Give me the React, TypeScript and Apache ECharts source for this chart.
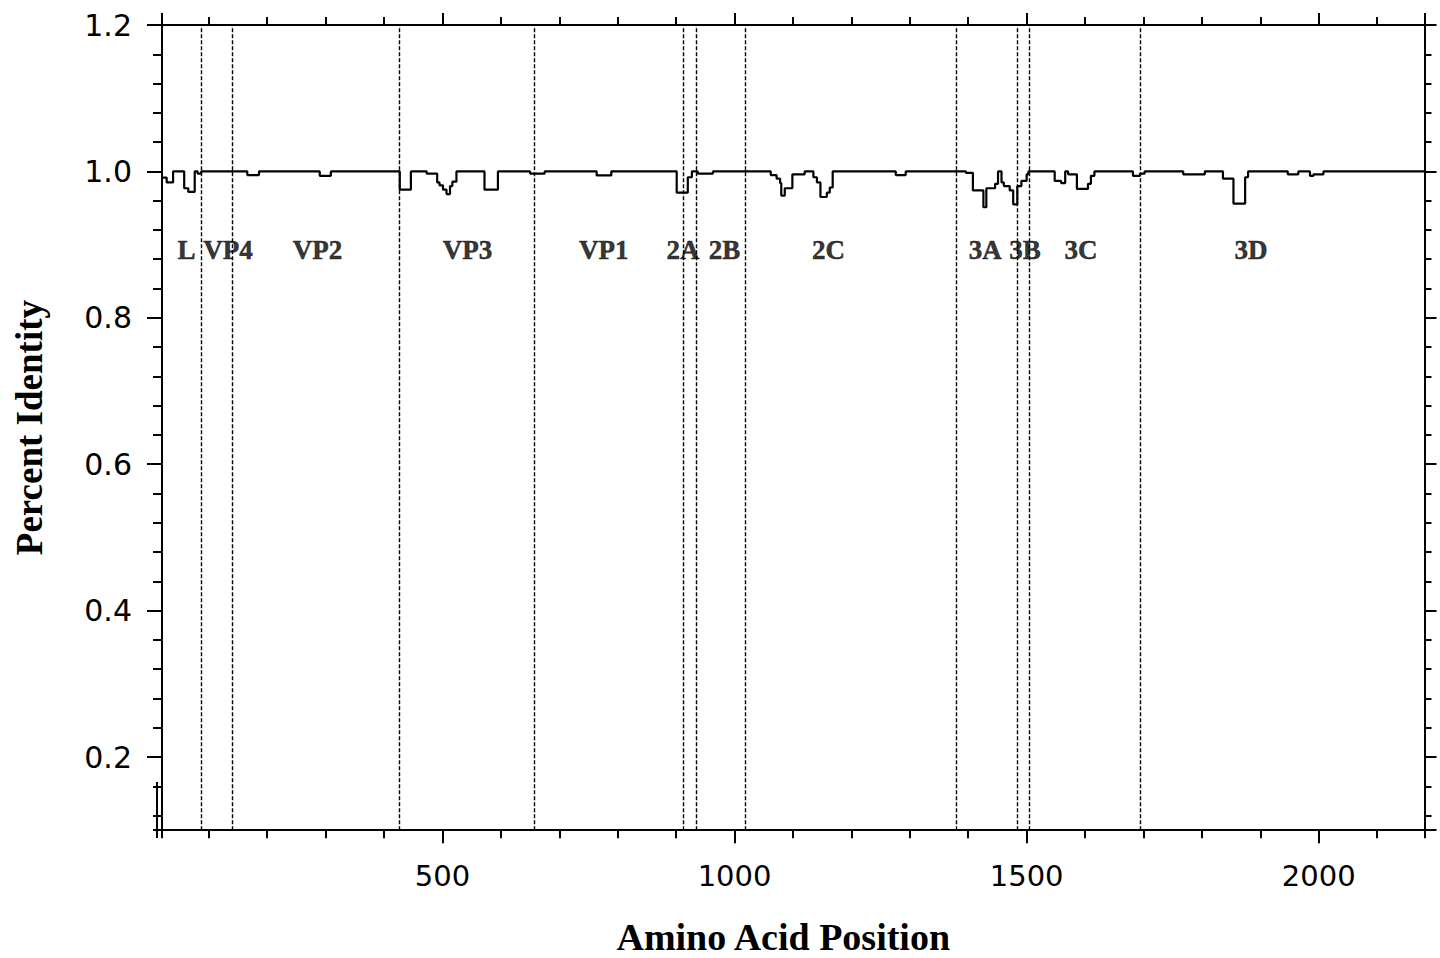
import React, { useEffect, useRef } from "react";
import * as echarts from "echarts";

// Step profile: start position of each step (amino acid) and its percent identity
const positions = [20,28,39,58,65,76,81,87,166,186,290,309,427,446,473,491,495,501,507,513,517,524,572,595,650,675,764,789,901,920,927,937,963,1062,1072,1078,1080,1086,1099,1120,1135,1141,1147,1158,1163,1168,1276,1293,1396,1408,1426,1431,1446,1451,1457,1461,1471,1477,1484,1491,1500,1503,1548,1559,1566,1571,1586,1605,1610,1616,1682,1694,1702,1768,1805,1836,1854,1874,1879,1947,1965,1985,1991,2008,2181];
const identity = [0.9915,0.985,1.0,0.977,0.972,1.0,0.997,1.0,0.995,1.0,0.994,1.0,0.975,1.0,0.997,0.985,0.981,0.975,0.969,0.98,0.986,1.0,0.975,1.0,0.997,1.0,0.9945,1.0,0.971,0.992,1.0,0.997,1.0,0.995,0.99,0.984,0.967,0.977,0.996,1.0,0.992,0.985,0.965,0.971,0.978,1.0,0.995,1.0,0.998,0.974,0.951,0.977,0.983,1.0,0.985,0.98,0.974,0.955,0.98,0.987,0.996,1.0,0.987,0.984,1.0,0.996,0.976,0.983,0.994,1.0,0.994,0.997,1.0,0.996,1.0,0.99,0.956,0.992,1.0,0.996,1.0,0.994,0.996,1.0,1.0];

// Gene region boundaries (dashed lines) and region labels
const boundaries = [87,141,426,658,912,934,1019,1379,1484,1504,1695];
const regionNames = ["L","VP4","VP2","VP3","VP1","2A","2B","2C","3A","3B","3C","3D"];
const regionLabelX = [62,133,286,543,776,912,983,1161,1429,1497,1593,1884];
const regionLabelY = 0.893;

const X_MIN = 20;
const X_MAX = 2181;
const Y_MIN = 0.1;
const Y_MAX = 1.2;

const tickFont = "'DejaVu Sans', Verdana, sans-serif";
const serifFont = "'Liberation Serif', 'Times New Roman', serif";

export default function App() {
  const ref = useRef<HTMLDivElement>(null);

  useEffect(() => {
    if (!ref.current) return;
    const chart = echarts.init(ref.current, null, { renderer: "svg" });

    const lineBlack = { color: "#000", width: 2 };

    const xBase = {
      type: "value" as const,
      min: X_MIN,
      max: X_MAX,
      splitLine: { show: false },
      gridIndex: 0,
    };
    const yBase = {
      type: "value" as const,
      min: Y_MIN,
      max: Y_MAX,
      splitLine: { show: false },
      gridIndex: 0,
    };

    const option: any = {
      animation: false,
      backgroundColor: "#fff",
      grid: {
        left: 162,
        right: 15.5,
        top: 25,
        bottom: 127.8,
        containLabel: false,
        outerBoundsMode: "none",
      },
      xAxis: [
        {
          ...xBase,
          position: "bottom",
          minInterval: 500,
          maxInterval: 500,
          axisLine: { show: true, lineStyle: lineBlack },
          axisTick: { show: true, length: 13, inside: false, lineStyle: lineBlack },
          axisLabel: {
            show: true,
            margin: 31,
            fontSize: 29,
            fontFamily: tickFont,
            color: "#000",
            showMinLabel: false,
            showMaxLabel: false,
            formatter: (v: number) => String(Math.round(v)),
          },
          name: "Amino Acid Position",
          nameLocation: "middle",
          nameGap: 92,
          nameTextStyle: {
            fontFamily: serifFont,
            fontWeight: "bold",
            fontSize: 38,
            lineHeight: 30,
            color: "#000",
            padding: [0, 20, 0, 0],
          },
        },
        {
          ...xBase,
          position: "bottom",
          minInterval: 100,
          maxInterval: 100,
          axisLine: { show: false },
          axisTick: { show: true, length: 8, inside: false, lineStyle: lineBlack },
          axisLabel: { show: false },
        },
        {
          ...xBase,
          position: "top",
          minInterval: 500,
          maxInterval: 500,
          axisLine: { show: true, lineStyle: lineBlack },
          axisTick: { show: true, length: 12, inside: false, lineStyle: lineBlack },
          axisLabel: { show: false },
        },
        {
          ...xBase,
          position: "top",
          minInterval: 100,
          maxInterval: 100,
          axisLine: { show: false },
          axisTick: { show: true, length: 8, inside: false, lineStyle: lineBlack },
          axisLabel: { show: false },
        },
      ],
      yAxis: [
        {
          ...yBase,
          position: "left",
          minInterval: 0.2,
          maxInterval: 0.2,
          axisLine: { show: true, lineStyle: lineBlack },
          axisTick: { show: true, length: 15, inside: false, lineStyle: lineBlack },
          axisLabel: {
            show: true,
            margin: 30,
            fontSize: 30,
            fontFamily: tickFont,
            color: "#000",
            showMinLabel: false,
            formatter: (v: number) => v.toFixed(1),
          },
          name: "Percent Identity",
          nameLocation: "middle",
          nameGap: 114,
          nameTextStyle: {
            fontFamily: serifFont,
            fontWeight: "bold",
            fontSize: 37,
            color: "#000",
          },
        },
        {
          ...yBase,
          position: "left",
          minInterval: 0.04,
          maxInterval: 0.04,
          axisLine: { show: false },
          axisTick: { show: true, length: 9, inside: false, lineStyle: lineBlack },
          axisLabel: { show: false },
        },
        {
          ...yBase,
          position: "right",
          minInterval: 0.2,
          maxInterval: 0.2,
          axisLine: { show: true, lineStyle: lineBlack },
          axisTick: { show: true, length: 12, inside: false, lineStyle: lineBlack },
          axisLabel: { show: false },
        },
        {
          ...yBase,
          position: "right",
          minInterval: 0.04,
          maxInterval: 0.04,
          axisLine: { show: false },
          axisTick: { show: true, length: 7, inside: false, lineStyle: lineBlack },
          axisLabel: { show: false },
        },
      ],
      series: [
        {
          type: "line",
          xAxisIndex: 0,
          yAxisIndex: 0,
          step: "end",
          symbol: "none",
          data: positions.map((p, i) => [p, identity[i]]),
          lineStyle: { color: "#000", width: 2.2 },
          silent: true,
          markLine: {
            silent: true,
            symbol: ["none", "none"],
            label: { show: false },
            lineStyle: { color: "#000", width: 1.4, type: [4, 2] },
            emphasis: { disabled: true },
            data: boundaries.map((b) => ({ xAxis: b })),
          },
          z: 3,
        },
        {
          type: "scatter",
          xAxisIndex: 0,
          yAxisIndex: 0,
          symbolSize: 0,
          silent: true,
          data: regionNames.map((n, i) => ({ name: n, value: [regionLabelX[i], regionLabelY] })),
          label: {
            show: true,
            position: "inside",
            formatter: "{b}",
            fontFamily: serifFont,
            fontWeight: "bold",
            fontSize: 27,
            color: "#000",
            textBorderColor: "#000",
            textBorderWidth: 0.5,
          },
          z: 4,
        },
      ],
      graphic: [
        {
          type: "line",
          shape: { x1: 157, y1: 782, x2: 157, y2: 838 },
          style: { stroke: "#000", lineWidth: 2 },
          silent: true,
        },
      ],
    };

    chart.setOption(option);
    return () => chart.dispose();
  }, []);

  return (
    <div
      ref={ref}
      style={{ position: "fixed", left: 0, top: 0, width: 1440, height: 958, background: "#fff" }}
    />
  );
}
